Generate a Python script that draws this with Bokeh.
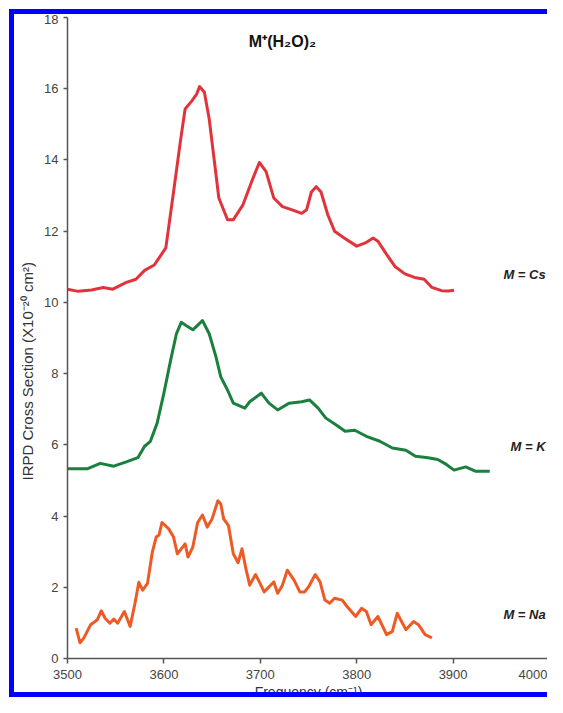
from bokeh.plotting import figure
from bokeh.models import Label, FixedTicker, Title, InlineStyleSheet
from bokeh.embed import file_html
from bokeh.resources import INLINE

# ---- data ----
cs_freq = [3500, 3511, 3525, 3537, 3547, 3561, 3571, 3580, 3590, 3595, 3602, 3610, 3617,
           3622, 3629, 3634, 3637, 3642, 3647, 3652, 3657, 3666, 3672, 3682, 3691, 3699,
           3706, 3714, 3723, 3733, 3743, 3748, 3753, 3758, 3763, 3770, 3777, 3787, 3800,
           3809, 3817, 3822, 3831, 3840, 3850, 3860, 3870, 3878, 3888, 3895, 3901]
cs_sigma = [10.37, 10.31, 10.35, 10.42, 10.37, 10.56, 10.65, 10.9, 11.05, 11.25, 11.53,
            13.1, 14.5, 15.43, 15.66, 15.85, 16.06, 15.9, 15.15, 14.04, 12.93, 12.32,
            12.32, 12.74, 13.39, 13.93, 13.67, 12.93, 12.69, 12.6, 12.5, 12.6, 13.1, 13.25,
            13.1, 12.46, 12.0, 11.81, 11.58, 11.67, 11.81, 11.72, 11.35, 11.0, 10.8, 10.7,
            10.65, 10.42, 10.33, 10.32, 10.34]

k_freq = [3500, 3521, 3534, 3548, 3561, 3573, 3580, 3586, 3593, 3600, 3607, 3613, 3618,
          3623, 3630, 3640, 3647, 3654, 3659, 3666, 3672, 3684, 3689, 3701, 3709, 3718,
          3730, 3743, 3751, 3760, 3768, 3778, 3788, 3798, 3810, 3824, 3837, 3851, 3861,
          3874, 3884, 3893, 3901, 3913, 3923, 3938]
k_sigma = [5.33, 5.33, 5.48, 5.40, 5.52, 5.64, 5.96, 6.1, 6.61, 7.45, 8.38, 9.12, 9.44,
           9.35, 9.23, 9.49, 9.12, 8.47, 7.91, 7.54, 7.17, 7.03, 7.21, 7.45, 7.17, 6.98,
           7.17, 7.21, 7.26, 7.03, 6.75, 6.57, 6.38, 6.41, 6.24, 6.1, 5.91, 5.85, 5.68,
           5.64, 5.59, 5.45, 5.29, 5.38, 5.26, 5.26]

na_freq = [3509, 3513, 3517, 3524, 3531, 3535, 3539, 3544, 3548, 3552, 3559, 3565, 3570,
           3574, 3578, 3583, 3588, 3592, 3595, 3598, 3605, 3610, 3614, 3622, 3625, 3630,
           3635, 3640, 3645, 3650, 3656, 3659, 3662, 3667, 3672, 3677, 3681, 3685, 3689,
           3695, 3699, 3704, 3714, 3718, 3723, 3728, 3735, 3741, 3746, 3750, 3757, 3762,
           3767, 3772, 3777, 3785, 3790, 3799, 3805, 3810, 3815, 3822, 3831, 3837, 3842,
           3851, 3859, 3864, 3871, 3878]
na_sigma = [0.85, 0.44, 0.58, 0.95, 1.09, 1.34, 1.13, 0.99, 1.11, 0.99, 1.32, 0.90, 1.55,
            2.14, 1.92, 2.11, 2.99, 3.41, 3.47, 3.82, 3.64, 3.41, 2.94, 3.22, 2.85, 3.13,
            3.82, 4.03, 3.69, 3.92, 4.43, 4.34, 3.92, 3.73, 2.94, 2.69, 3.08, 2.53, 2.06,
            2.36, 2.15, 1.87, 2.15, 1.83, 2.06, 2.48, 2.2, 1.87, 1.87, 2.01, 2.36, 2.15,
            1.64, 1.55, 1.69, 1.64, 1.46, 1.18, 1.41, 1.32, 0.95, 1.18, 0.67, 0.76, 1.27,
            0.81, 1.04, 0.95, 0.67, 0.58]

x_ticks = [3500, 3600, 3700, 3800, 3900, 4000]
y_ticks = [0, 2, 4, 6, 8, 10, 12, 14, 16, 18]
series_labels = ["M = Cs", "M = K", "M = Na"]
series_label_y = [10.78, 5.96, 1.23]
title_text = "M\u207a(H\u2082O)\u2082"
title_pos = (3723, 17.33)
x_title = "Frequency (cm\u207b\u00b9)"
y_title = "IRPD Cross Section (X10\u207b\u00b2\u2070 cm\u00b2)"

FONT = "Liberation Sans"
BLUE = "#0000FF"

W, H = 533, 678

p = figure(width=W, height=H, x_range=(3500, 4000), y_range=(0, 18),
           output_backend="svg", toolbar_location=None,
           min_border_left=51, min_border_right=3, min_border_top=3, min_border_bottom=40)
host_css = (":host {"
            " box-sizing: content-box !important;"
            f" border-top: 5px solid {BLUE} !important;"
            f" border-left: 5px solid {BLUE} !important;"
            f" border-bottom: 5px solid {BLUE} !important;"
            " border-right: none !important;"
            " background-color: white;"
            " margin-top: 9px !important; margin-left: 9px !important; }")
p.stylesheets = [InlineStyleSheet(css=host_css)]

p.xgrid.visible = False
p.ygrid.visible = False
p.outline_line_color = None
p.background_fill_color = "white"
p.border_fill_color = "white"

for ax in (p.xaxis[0], p.yaxis[0]):
    ax.axis_line_color = "#555555"
    ax.axis_line_width = 1.5
    ax.major_tick_line_color = "#555555"
    ax.major_tick_line_width = 1.5
    ax.minor_tick_line_color = None
    ax.major_label_text_font = FONT
    ax.major_label_text_font_size = "13px"
    ax.major_label_text_color = "#444444"

p.xaxis.ticker = FixedTicker(ticks=x_ticks)
p.yaxis.ticker = FixedTicker(ticks=y_ticks)
p.xaxis.major_tick_in = 0
p.xaxis.major_tick_out = 5
p.xaxis.major_label_standoff = 6
p.yaxis.major_tick_in = 0
p.yaxis.major_tick_out = 4
p.yaxis.major_label_standoff = 5

p.xaxis.axis_label = x_title
p.xaxis.axis_label_text_font = FONT
p.xaxis.axis_label_text_font_size = "14px"
p.xaxis.axis_label_text_font_style = "normal"
p.xaxis.axis_label_text_color = "#333333"
p.xaxis.axis_label_standoff = 2

ylab = Title(text=y_title, align="left", offset=178, standoff=8,
             vertical_align="top",
             text_font=FONT, text_font_size="15px", text_font_style="normal",
             text_color="#333333")
p.add_layout(ylab, "left")

p.line(cs_freq, cs_sigma, line_color="#E2333D", line_width=3, line_join="round")
p.line(k_freq, k_sigma, line_color="#1B7F3E", line_width=3, line_join="round")
p.line(na_freq, na_sigma, line_color="#EE5A24", line_width=3, line_join="round")

p.add_layout(Label(x=title_pos[0], y=title_pos[1], text=title_text, text_font=FONT,
                   text_font_size="16px", text_font_style="bold", text_color="#111111",
                   text_align="center", text_baseline="middle"))

for txt, yv in zip(series_labels, series_label_y):
    p.add_layout(Label(x=3996, y=yv, text=txt, text_font=FONT,
                       text_font_size="13px", text_font_style="bold italic",
                       text_color="#222222", text_align="right", text_baseline="middle"))

open("out.html", "w").write(file_html(p, INLINE))
